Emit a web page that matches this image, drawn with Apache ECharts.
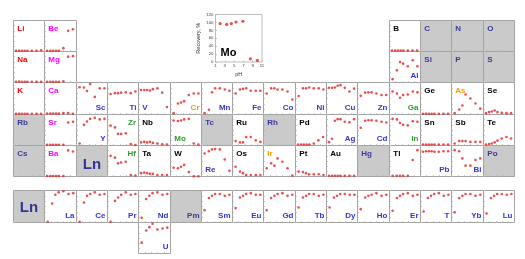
<!DOCTYPE html>
<html><head><meta charset="utf-8">
<script src="https://cdn.jsdelivr.net/npm/echarts@6/dist/echarts.min.js"></script>
<style>html,body{margin:0;padding:0;background:#fff}#c{width:525px;height:259px}</style>
</head><body><div id="c"></div>
<script>
// pH values (two sampling sets)
const pH8 = [1.8, 2.8, 3.7, 4.6, 5.5, 6.9, 8.4, 9.9];
const pH7 = [2.0, 3.4, 4.4, 5.4, 6.9, 8.5, 10.0];
const insetXTicks = [1, 3, 5, 7, 9, 11];
const insetYTicks = [0, 20, 40, 60, 80, 100, 120];

// recovery, % (pH8 set)
const Li = [3,3,3,3,3,3,3,5];
const Be = [3,3,3,3,3,13,80,86];
const B_ = [4,4,4,4,4,4,4,4];
const Na = [3,4,3,3,3,3,3,3];
const Mg = [3,3,3,3,3,5,100,102];
const K_ = [3,3,3,3,3,3,3,3];
const Ca = [4,4,4,4,4,5,5,3];
const V_ = [92,92,92,90,95,98,82,28];
const Cu = [100,100,101,108,110,100,86,97];
const Ge = [3,3,3,3,3,3,3,3];
const Se = [5,9,11,15,9,6,5,5];
const Sr = [3,3,3,3,3,3,89,92];
const Nb = [12,14,12,14,10,8,5,4];
const Pd = [4,4,4,4,4,8,20,33];
const Ag = [13,26,96,102,102,92,90,102];
const Sn = [4,4,4,4,4,4,4,4];
const Te = [4,6,8,12,19,27,33,27];
const Ba = [2,2,2,2,2,2,101,97];
const Ta = [13,15,13,10,10,6,6,6];
const Au = [3,3,3,3,3,3,3,3];
const Pb = [96,98,98,98,96,96,98,98];
// recovery, % (pH7 set)
const Al = [13,47,79,73,63,86,63];
const Sc = [102,101,88,114,66,98,98];
const Ti = [77,80,80,82,83,80,86];
const Cr = [5,41,45,50,73,79,79];
const Mn = [5,18,83,98,98,94,89];
const Fe = [79,94,96,98,89,89,89];
const Co = [79,98,98,94,94,86,56];
const Ni = [69,98,98,101,98,98,94];
const Zn = [70,82,83,83,79,73,73];
const Ga = [86,79,63,73,75,86,83];
const As = [5,19,34,75,60,41,22];
const Y_ = [8,80,93,103,107,101,103];
const Zr = [77,70,45,45,47,6,2];
const Mo = [97,95,97,101,103,8,4];
const Ru = [17,12,12,33,33,20,14];
const Cd = [69,96,98,98,96,92,89];
const In_ = [103,101,87,80,78,94,92];
const Sb = [8,17,17,17,14,14,14];
const Hf = [80,73,51,54,57,6,4];
const W_ = [34,32,38,45,17,1,1];
const Re = [89,98,105,106,105,66,22];
const Os = [38,19,13,6,6,6,6];
const Ir = [32,51,42,70,57,32,4];
const Pt = [19,17,13,9,9,9,6];
const Tl = [3,3,3,3,3,64,102];
const Bi = [102,98,70,42,42,64,70];
const La = [3,71,104,113,117,107,110];
const Ce = [3,75,100,107,113,104,107];
const Pr = [3,81,94,104,113,104,107];
const Nd = [18,88,100,110,113,104,107];
const Sm = [46,92,100,107,107,100,104];
const Eu = [54,94,100,107,110,104,104];
const Gd = [46,92,100,107,110,100,104];
const Tb = [56,94,100,107,107,100,104];
const Dy = [56,94,100,107,107,104,104];
const Ho = [50,94,100,104,110,100,104];
const Er = [44,92,100,107,110,100,104];
const Tm = [41,92,100,107,110,100,104];
const Yb = [38,92,100,107,107,100,104];
const Lu = [34,92,100,107,107,104,107];
const U_ = [42,89,102,115,93,97,100];

// layout table: [label, row, col, colourKey, labelPos, recovery, pH]
const cells = [
 ['Li',0,0,'r','TL',Li,pH8],['Be',0,1,'m','TL',Be,pH8],['B',0,12,'k','TL',B_,pH8],
 ['C',0,13,'g','TL'],['N',0,14,'g','TL'],['O',0,15,'g','TL'],
 ['Na',1,0,'r','TL',Na,pH8],['Mg',1,1,'m','TL',Mg,pH8],['Al',1,12,'b','BR',Al,pH7],
 ['Si',1,13,'g','TL'],['P',1,14,'g','TL'],['S',1,15,'g','TL'],
 ['K',2,0,'r','TL',K_,pH8],['Ca',2,1,'m','TL',Ca,pH8],['Sc',2,2,'b','BR',Sc,pH7],['Ti',2,3,'b','BR',Ti,pH7],
 ['V',2,4,'b','BL',V_,pH8],['Cr',2,5,'o','BR',Cr,pH7],['Mn',2,6,'b','BR',Mn,pH7],['Fe',2,7,'b','BR',Fe,pH7],
 ['Co',2,8,'b','BR',Co,pH7],['Ni',2,9,'b','BR',Ni,pH7],['Cu',2,10,'b','BR',Cu,pH8],['Zn',2,11,'b','BR',Zn,pH7],
 ['Ga',2,12,'gr','BR',Ga,pH7],['Ge',2,13,'k','TL',Ge,pH8],['As',2,14,'o','TL',As,pH7],['Se',2,15,'k','TL',Se,pH8],
 ['Rb',3,0,'g','TL'],['Sr',3,1,'m','TL',Sr,pH8],['Y',3,2,'b','BR',Y_,pH7],['Zr',3,3,'gr','TR',Zr,pH7],
 ['Nb',3,4,'k','TL',Nb,pH8],['Mo',3,5,'gr','BL',Mo,pH7],['Tc',3,6,'g','TL'],['Ru',3,7,'k','TL',Ru,pH7],
 ['Rh',3,8,'g','TL'],['Pd',3,9,'k','TL',Pd,pH8],['Ag',3,10,'b','BR',Ag,pH8],['Cd',3,11,'b','BR',Cd,pH7],
 ['In',3,12,'gr','BR',In_,pH7],['Sn',3,13,'k','TL',Sn,pH8],['Sb',3,14,'k','TL',Sb,pH7],['Te',3,15,'k','TL',Te,pH8],
 ['Cs',4,0,'g','TL'],['Ba',4,1,'m','TL',Ba,pH8],['Ln',4,2,'g','C'],['Hf',4,3,'gr','TR',Hf,pH7],
 ['Ta',4,4,'k','TL',Ta,pH8],['W',4,5,'k','TL',W_,pH7],['Re',4,6,'b','BL',Re,pH7],['Os',4,7,'k','TL',Os,pH7],
 ['Ir',4,8,'o','TL',Ir,pH7],['Pt',4,9,'k','TL',Pt,pH7],['Au',4,10,'k','TL',Au,pH8],['Hg',4,11,'g','TL'],
 ['Tl',4,12,'k','TL',Tl,pH7],['Pb',4,13,'b','BR',Pb,pH8],['Bi',4,14,'b','BR',Bi,pH7],['Po',4,15,'g','TL'],
 ['Ln',5,0,'g','C'],['La',5,1,'b','BR',La,pH7],['Ce',5,2,'b','BR',Ce,pH7],['Pr',5,3,'b','BR',Pr,pH7],
 ['Nd',5,4,'b','BR',Nd,pH7],['Pm',5,5,'g','BR'],['Sm',5,6,'b','BR',Sm,pH7],['Eu',5,7,'b','BR',Eu,pH7],
 ['Gd',5,8,'b','BR',Gd,pH7],['Tb',5,9,'b','BR',Tb,pH7],['Dy',5,10,'b','BR',Dy,pH7],['Ho',5,11,'b','BR',Ho,pH7],
 ['Er',5,12,'b','BR',Er,pH7],['T',5,13,'b','BR',Tm,pH7],['Yb',5,14,'b','BR',Yb,pH7],['Lu',5,15,'b','BR',Lu,pH7],
 ['U',6,4,'b','BR',U_,pH7]
];

const CW = 31.3, X0 = 13;
const rowTop = [19.6, 50.9, 82.2, 113.5, 144.8, 190.2, 221.5];
const colours = {r:'#ff0000', m:'#ff00ff', b:'#3535cc', o:'#ff9900', gr:'#2f9a2f', k:'#000000', g:'#3a3a9c'};
const FONT = '"Liberation Sans", Arial, sans-serif';
const DOT = '#e02424';

const grids = [], xAxes = [], yAxes = [], series = [], graphics = [];
function px(v){ return Math.round(v) + 0.5; }

cells.forEach((c, i) => {
  const [name, row, col, ck, pos, rec, ph] = c;
  const left = px(X0 + col*CW), top = px(rowTop[row]);
  const w = px(X0 + (col+1)*CW) - left, h = px(rowTop[row] + CW) - top;
  const gray = ck === 'g';
  grids.push({left, top, width: w, height: h, show: true,
    backgroundColor: gray ? '#cacaca' : '#ffffff', borderColor: '#a3a3a3', borderWidth: 1});
  const tick = {show: true, inside: true, length: 1.5, lineStyle: {color: '#b5b5b5', width: 0.7}};
  xAxes.push({gridIndex: i, type: 'value', min: 1, max: 11, interval: 2,
    axisLine: {show: false}, axisTick: tick, axisLabel: {show: false}, splitLine: {show: false}});
  yAxes.push({gridIndex: i, type: 'value', min: 0, max: 120, interval: 20,
    axisLine: {show: false}, axisTick: tick, axisLabel: {show: false}, splitLine: {show: false}});
  if (rec) {
    series.push({type: 'scatter', xAxisIndex: i, yAxisIndex: i, silent: true, animation: false,
      symbolSize: 2.6, itemStyle: {color: DOT},
      data: ph.map((x, j) => [x, rec[j]])});
  }
  let st = {text: name, fill: colours[ck], font: 'bold 8px ' + FONT};
  let x, y, align, valign;
  if (pos === 'TL') { x = left + 3.8; y = top + 4.3; align = 'left'; valign = 'top'; }
  else if (pos === 'TR') { x = left + w - 2.5; y = top + 4.3; align = 'right'; valign = 'top'; }
  else if (pos === 'BR') { x = left + w - 2; y = top + h - 2.3; align = 'right'; valign = 'bottom'; }
  else if (pos === 'BL') { x = left + 3.8; y = top + h - 2.3; align = 'left'; valign = 'bottom'; }
  else { x = left + w/2; y = top + h/2 + (row === 4 ? 3.5 : 1); align = 'center'; valign = 'middle';
         st.font = 'bold 15px ' + FONT; st.fill = '#333399'; }
  st.align = align; st.verticalAlign = valign; st.textAlign = align; st.textVerticalAlign = valign;
  graphics.push({type: 'text', x, y, z: 100, silent: true, style: st});
});

// Mo inset chart
const gi = grids.length;
grids.push({left: 215.5, top: 14.5, width: 46.5, height: 47.5, show: true, backgroundColor: '#fff',
  borderColor: '#bdbdbd', borderWidth: 1});
xAxes.push({gridIndex: gi, type: 'value', min: insetXTicks[0], max: insetXTicks[insetXTicks.length-1], interval: 2,
  name: 'pH', nameLocation: 'middle', nameGap: 9.5, nameTextStyle: {fontSize: 5.5, color: '#333', fontFamily: FONT},
  axisLine: {show: false}, axisTick: {show: true, inside: true, length: 1.5, lineStyle: {color: '#999', width: 0.6}},
  axisLabel: {fontSize: 4.3, color: '#444', margin: 2, fontFamily: FONT}, splitLine: {show: false}});
yAxes.push({gridIndex: gi, type: 'value', min: insetYTicks[0], max: insetYTicks[insetYTicks.length-1], interval: 20,
  name: 'Recovery, %', nameLocation: 'middle', nameGap: 14, nameTextStyle: {fontSize: 5.5, color: '#333', fontFamily: FONT},
  axisLine: {show: false}, axisTick: {show: true, inside: true, length: 1.5, lineStyle: {color: '#999', width: 0.6}},
  axisLabel: {fontSize: 4.3, color: '#444', margin: 2, fontFamily: FONT}, splitLine: {show: false}});
series.push({type: 'scatter', xAxisIndex: gi, yAxisIndex: gi, silent: true, animation: false,
  symbolSize: 3.2, itemStyle: {color: DOT}, data: pH7.map((x, j) => [x, Mo[j]])});
graphics.push({type: 'text', x: 220.5, y: 47, z: 100, silent: true,
  style: {text: 'Mo', fill: '#000', font: 'bold 11px ' + FONT, align: 'left', verticalAlign: 'top',
          textAlign: 'left', textVerticalAlign: 'top'}});

const chart = echarts.init(document.getElementById('c'), null, {renderer: 'canvas'});
chart.setOption({animation: false, grid: grids, xAxis: xAxes, yAxis: yAxes, series, graphic: graphics});
</script></body></html>
